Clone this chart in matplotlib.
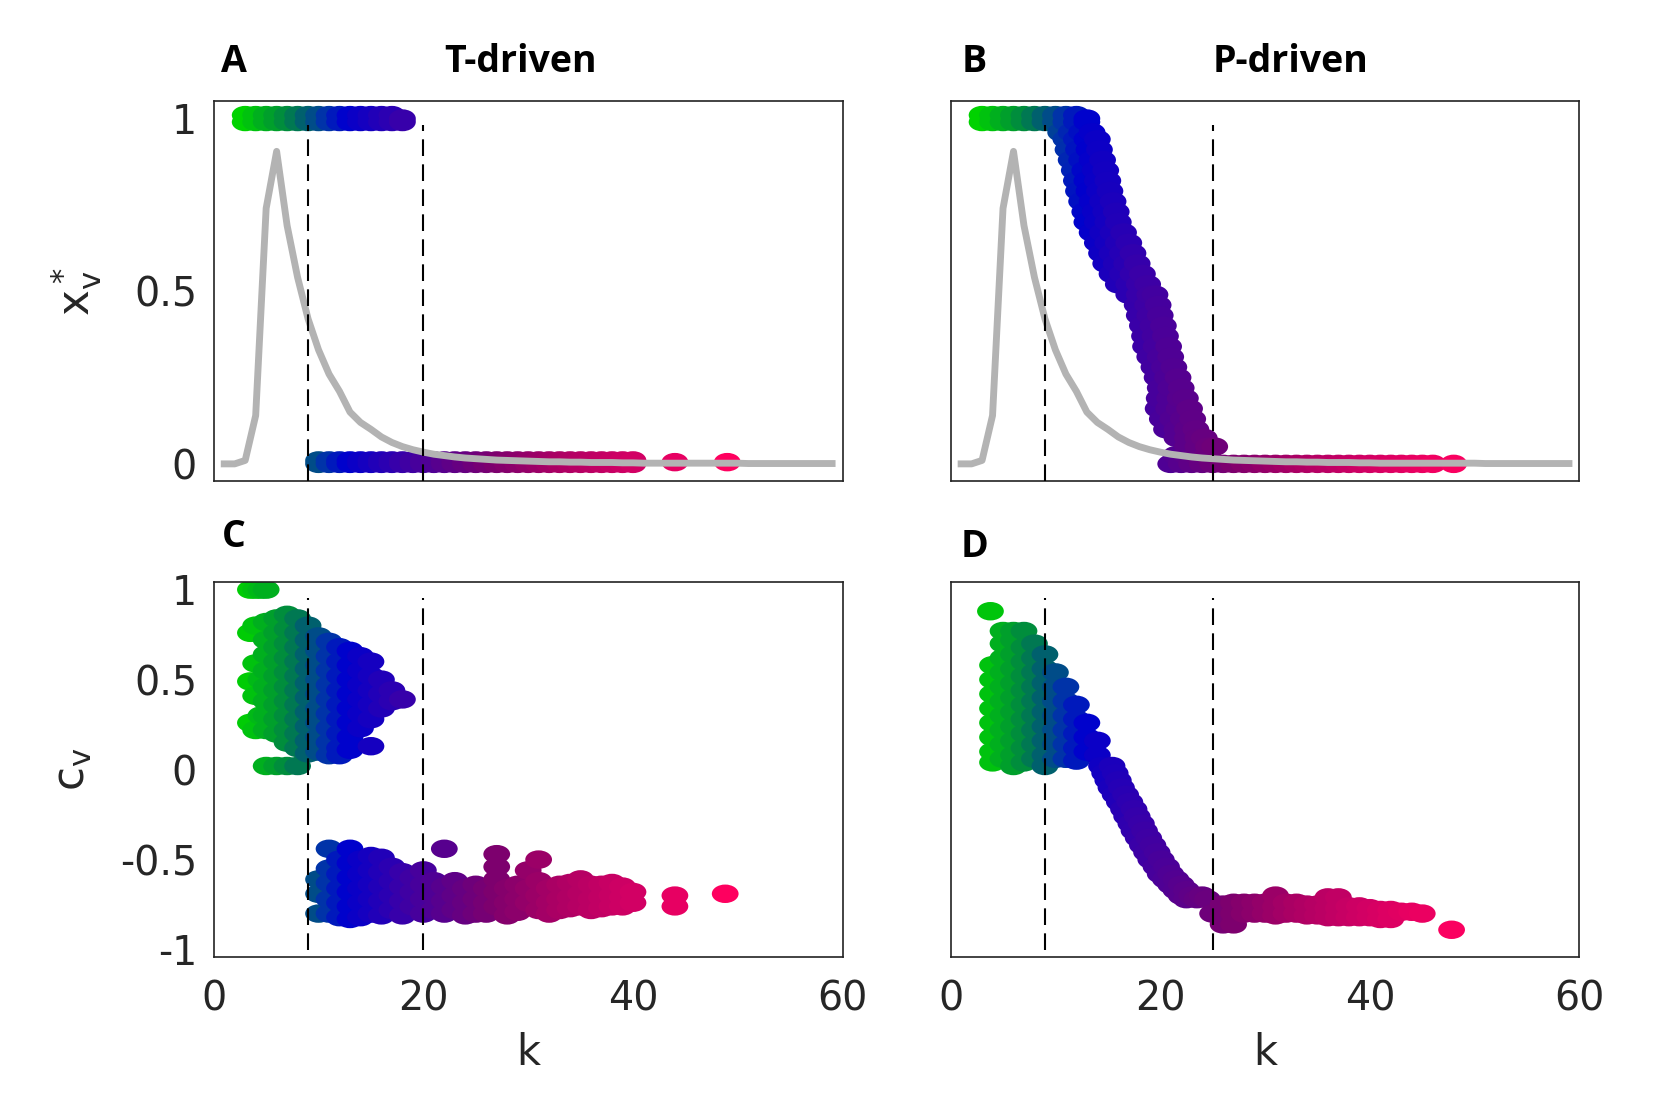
import matplotlib.pyplot as plt
from matplotlib.colors import LinearSegmentedColormap, Normalize
from matplotlib.path import Path
from matplotlib.transforms import Affine2D

# grey curve: scaled degree distribution, k = 1..59
deg_k = list(range(1, 60))
deg_p = [0.0, 0.0, 0.01, 0.14, 0.74, 0.905, 0.69, 0.54, 0.42, 0.33,
         0.26, 0.21, 0.15, 0.12, 0.10, 0.078, 0.062, 0.05, 0.041, 0.034,
         0.028, 0.024, 0.02, 0.017, 0.015, 0.013, 0.011, 0.01, 0.009, 0.008,
         0.007, 0.006, 0.006, 0.005, 0.005, 0.004, 0.004, 0.004, 0.003, 0.003,
         0.002, 0.002, 0.002, 0.002, 0.002, 0.002, 0.002, 0.002, 0.002, 0.002,
         0.001, 0.001, 0.001, 0.001, 0.001, 0.001, 0.001, 0.001, 0.001]

# dashed thresholds
t_lines = [9, 20]
p_lines = [9, 25]

# A: x*_v, T-driven  (k -> values)
a_cols = {
    3: [0.99, 1.01], 4: [0.99, 1.01], 5: [0.99, 1.01], 6: [0.99, 1.01],
    7: [0.99, 1.01], 8: [0.99, 1.01], 9: [0.99, 1.01], 10: [0.0, 0.01, 0.99, 1.01],
    11: [0.0, 0.01, 0.99, 1.01], 12: [0.0, 0.01, 0.99, 1.01], 13: [0.0, 0.01, 0.99, 1.01],
    14: [0.0, 0.01, 0.99, 1.01], 15: [0.0, 0.01, 0.99, 1.01], 16: [0.0, 0.01, 0.99, 1.01],
    17: [0.0, 0.01, 0.99, 1.01], 18: [0.0, 0.01, 0.99, 1.0],
    19: [0.0, 0.01], 20: [0.0, 0.01], 21: [0.0, 0.01], 22: [0.0, 0.01], 23: [0.0, 0.01],
    24: [0.0, 0.01], 25: [0.0, 0.01], 26: [0.0, 0.01], 27: [0.0, 0.01], 28: [0.0, 0.01],
    29: [0.0, 0.01], 30: [0.0, 0.01], 31: [0.0, 0.01], 32: [0.0, 0.01], 33: [0.0, 0.01],
    34: [0.0, 0.01], 35: [0.0, 0.01], 36: [0.0, 0.01], 37: [0.0, 0.01], 38: [0.0, 0.01],
    39: [0.0, 0.01], 40: [0.0, 0.01], 44: [0.005], 49: [0.005],
}

# B: x*_v, P-driven
b_cols = {
    3: [0.99, 1.01], 4: [0.99, 1.01], 5: [0.99, 1.01], 6: [0.99, 1.01], 7: [0.99, 1.01],
    8: [0.99, 1.01], 9: [0.99, 1.01], 10: [0.99, 1.01], 11: [0.99, 1.01],
    12: [0.99, 1.01], 13: [0.99, 1.0],
}
b_rows = {
    0.96: [10.5, 11.5, 12.5, 13.5],
    0.94: [11, 12, 13, 14],
    0.91: [11.2, 12.2, 13.2, 14.2],
    0.88: [11.5, 12.5, 13.5, 14.5],
    0.85: [11.8, 12.8, 13.8, 14.8],
    0.82: [12, 13, 14, 15],
    0.79: [12.2, 13.2, 14.2, 15.2],
    0.76: [12.5, 13.5, 14.5, 15.5],
    0.73: [12.8, 13.8, 14.8, 15.8],
    0.70: [13, 14, 15, 16],
    0.67: [13.5, 14.5, 15.5, 16.5],
    0.64: [14, 15, 16, 17],
    0.61: [14.4, 15.4, 16.4, 17.4],
    0.58: [14.8, 15.8, 16.8, 17.8],
    0.55: [15.4, 16.4, 17.4, 18.3],
    0.52: [16, 17, 18, 18.8],
    0.49: [17, 18, 19, 19.5],
    0.46: [17.8, 18.8, 19.8],
    0.43: [18, 19, 20],
    0.40: [18.3, 19.3, 20.3],
    0.37: [18.5, 19.5, 20.5],
    0.34: [18.6, 19.6, 20.8],
    0.31: [19, 20, 21],
    0.28: [19.4, 20.4, 21.3],
    0.25: [19.7, 20.7, 21.7],
    0.22: [20, 21, 22],
    0.19: [19.9, 20.9, 21.9, 22.4],
    0.16: [19.8, 20.8, 21.8, 22.8],
    0.13: [20.2, 21.2, 22.2, 23.1],
    0.10: [20.6, 21.6, 22.6, 23.4],
    0.075: [21.6, 22.6, 23.6, 24.2],
    0.05: [22.6, 23.6, 24.6, 25.2],
    0.025: [21.5, 22.5, 23.5, 24.5],
    0.0: [21, 22, 23, 24, 25, 26, 27, 28, 29, 30, 31, 32, 33, 34, 35, 36,
          37, 38, 39, 40, 41, 42, 43, 44, 45, 46, 48],
}

# C: c_v, T-driven
c_cols = {
    3.5: [1.0, 0.76, 0.49, 0.26],
    4: [1.0, 0.8, 0.59, 0.41, 0.22],
    4.5: [1.0, 0.5, 0.3],
    5: [1.0, 0.82, 0.72, 0.64, 0.55, 0.46, 0.38, 0.3, 0.22, 0.02],
    6: [0.84, 0.76, 0.68, 0.6, 0.52, 0.44, 0.36, 0.28, 0.2, 0.02],
    7: [0.86, 0.78, 0.7, 0.62, 0.54, 0.46, 0.38, 0.3, 0.22, 0.15, 0.02],
    8: [0.84, 0.76, 0.68, 0.6, 0.52, 0.44, 0.36, 0.28, 0.2, 0.12, 0.02],
    9: [0.8, 0.72, 0.64, 0.56, 0.48, 0.4, 0.32, 0.24, 0.16, 0.09],
    10: [0.74, 0.66, 0.58, 0.5, 0.42, 0.34, 0.26, 0.18, 0.1,
         -0.61, -0.69, -0.8],
    11: [0.71, 0.63, 0.55, 0.47, 0.39, 0.31, 0.23, 0.15, 0.08,
         -0.44, -0.55, -0.63, -0.72, -0.8],
    12: [0.68, 0.6, 0.52, 0.44, 0.36, 0.28, 0.2, 0.12, 0.08,
         -0.5, -0.58, -0.66, -0.74, -0.82],
    13: [0.66, 0.58, 0.5, 0.42, 0.34, 0.26, 0.18, 0.11,
         -0.44, -0.52, -0.6, -0.68, -0.76, -0.83],
    14: [0.63, 0.55, 0.47, 0.39, 0.31, 0.23,
         -0.5, -0.58, -0.66, -0.74, -0.82],
    15: [0.6, 0.52, 0.44, 0.36, 0.28, 0.13,
         -0.48, -0.56, -0.64, -0.72, -0.8],
    16: [0.5, 0.42, 0.34, -0.49, -0.57, -0.65, -0.73, -0.81],
    17: [0.44, 0.38, -0.54, -0.62, -0.7, -0.78],
    18: [0.39, -0.57, -0.65, -0.73, -0.81],
    19: [-0.6, -0.68, -0.76],
    20: [-0.56, -0.64, -0.72, -0.8],
    21: [-0.62, -0.7, -0.78],
    22: [-0.44, -0.65, -0.73, -0.8],
    23: [-0.62, -0.7, -0.78],
    24: [-0.66, -0.74, -0.81],
    25: [-0.64, -0.72, -0.8],
    26: [-0.66, -0.74, -0.8],
    27: [-0.47, -0.54, -0.61, -0.68, -0.76],
    28: [-0.66, -0.74, -0.81],
    29: [-0.64, -0.72, -0.79],
    30: [-0.56, -0.66, -0.74],
    31: [-0.5, -0.62, -0.7, -0.78],
    32: [-0.66, -0.74, -0.8],
    33: [-0.64, -0.72, -0.78],
    34: [-0.63, -0.71, -0.77],
    35: [-0.61, -0.69, -0.76],
    36: [-0.64, -0.72, -0.78],
    37: [-0.64, -0.71, -0.77],
    38: [-0.63, -0.7, -0.76],
    39: [-0.65, -0.71, -0.76],
    40: [-0.68, -0.74],
    44: [-0.7, -0.76],
    48.8: [-0.69],
}

# D: c_v, P-driven
d_cols = {
    3.8: [0.88],
    4: [0.58, 0.5, 0.42, 0.34, 0.26, 0.18, 0.1, 0.04],
    5: [0.77, 0.7, 0.62, 0.54, 0.46, 0.38, 0.3, 0.22, 0.14, 0.06],
    6: [0.77, 0.72, 0.64, 0.56, 0.48, 0.4, 0.32, 0.24, 0.16, 0.08, 0.02],
    7: [0.77, 0.68, 0.6, 0.52, 0.44, 0.36, 0.28, 0.2, 0.12, 0.04],
    8: [0.7, 0.62, 0.54, 0.46, 0.38, 0.3, 0.22, 0.14, 0.06],
    9: [0.64, 0.56, 0.48, 0.4, 0.32, 0.24, 0.16, 0.08, 0.02],
    10: [0.54, 0.46, 0.38, 0.3, 0.22, 0.14, 0.06],
    11: [0.46, 0.38, 0.3, 0.22, 0.14, 0.06],
    12: [0.36, 0.28, 0.2, 0.12, 0.05],
    13: [0.26, 0.18, 0.1],
    14: [0.16, 0.08],
    25: [-0.8], 26: [-0.75, -0.81, -0.86], 27: [-0.74, -0.8, -0.86],
    28: [-0.74, -0.8], 29: [-0.74, -0.8], 30: [-0.74, -0.8],
    31: [-0.7, -0.76, -0.81], 32: [-0.74, -0.8], 33: [-0.74, -0.8],
    34: [-0.75, -0.81], 35: [-0.75, -0.81], 36: [-0.71, -0.77, -0.82],
    37: [-0.71, -0.77, -0.82], 38: [-0.76, -0.82], 39: [-0.76, -0.82],
    40: [-0.77, -0.82], 41: [-0.78, -0.83], 42: [-0.78, -0.83],
    43: [-0.79], 44: [-0.79], 45: [-0.8], 47.8: [-0.89],
}
d_rows = {
    0.02: [14.4, 15.4],
    -0.02: [14.7, 15.7],
    -0.06: [15.0, 16.0],
    -0.10: [15.3, 16.3],
    -0.14: [15.7, 16.7],
    -0.18: [16.1, 17.1],
    -0.22: [16.5, 17.5],
    -0.26: [16.8, 17.8],
    -0.30: [17.2, 18.2],
    -0.34: [17.5, 18.5],
    -0.38: [17.9, 18.9],
    -0.42: [18.3, 19.3],
    -0.46: [18.7, 19.7],
    -0.50: [19.1, 20.1],
    -0.54: [19.6, 20.6],
    -0.58: [20.0, 21.0],
    -0.61: [20.5, 21.5],
    -0.64: [21.0, 22.0],
    -0.67: [21.5, 22.5],
    -0.70: [22.0, 23.0, 24.0],
    -0.72: [22.5, 23.5, 24.5],
}

# colour of a node goes with its degree k
k_stops = [3, 7, 9, 11, 13, 18, 23, 27, 33, 40, 49]
rgb_stops = [(0, 210, 0), (0, 140, 60), (0, 95, 110), (0, 50, 170), (0, 0, 205),
             (55, 0, 170), (95, 0, 135), (125, 0, 110), (170, 0, 100),
             (210, 0, 100), (255, 0, 95)]
cmap = LinearSegmentedColormap.from_list(
    "kmap", [((k - 3) / 46, tuple(c / 255 for c in rgb)) for k, rgb in zip(k_stops, rgb_stops)])
norm = Normalize(3, 49)

# points look stretched sideways in the original
ellipse = Path.unit_circle().transformed(Affine2D().scale(1.45, 1.0))


def expand(cols, rows=None):
    pts = []
    for k, vals in cols.items():
        pts += [(k, v) for v in vals]
    for v, ks in (rows or {}).items():
        pts += [(k, v) for k in ks]
    pts.sort()
    return [p[0] for p in pts], [p[1] for p in pts]


fig = plt.figure(figsize=(1657 / 150, 1101 / 150), dpi=150)
tick_col = "#262626"

boxes = {
    "A": [0.129, 0.563, 0.3795, 0.345],
    "B": [0.5737, 0.563, 0.3795, 0.345],
    "C": [0.129, 0.131, 0.3795, 0.340],
    "D": [0.5737, 0.131, 0.3795, 0.340],
}
panels = {
    "A": (a_cols, None, t_lines),
    "B": (b_cols, b_rows, p_lines),
    "C": (c_cols, None, t_lines),
    "D": (d_cols, d_rows, p_lines),
}

for name, (cols, rows, lines) in panels.items():
    ax = fig.add_axes(boxes[name])
    ks, vs = expand(cols, rows)
    ax.scatter(ks, vs, c=ks, cmap=cmap, norm=norm, s=165, marker=ellipse,
               edgecolors="none", zorder=2)
    top = name in ("A", "B")
    if top:
        ax.plot(deg_k, deg_p, color="#b3b3b3", lw=3.3, zorder=3)
        ax.set_ylim(-0.05, 1.05)
        lo, hi = -0.05, 0.98
    else:
        ax.set_ylim(-1.04, 1.04)
        lo, hi = -1.0, 0.955
    for k in lines:
        ax.plot([k, k], [lo, hi], color="black", lw=1.0, dashes=(8, 4), zorder=4)
    ax.set_xlim(0, 60)
    ax.set_xticks([0, 20, 40, 60])
    if top:
        ax.set_yticks([0, 0.5, 1])
        ax.set_yticklabels(["0", "0.5", "1"])
    else:
        ax.set_yticks([-1, -0.5, 0, 0.5, 1])
        ax.set_yticklabels(["-1", "-0.5", "0", "0.5", "1"])
    ax.tick_params(length=0, labelsize=19, colors=tick_col)
    ax.tick_params(axis="y", pad=8)
    ax.tick_params(axis="x", pad=11)
    ax.tick_params(labelbottom=not top, labelleft=name in ("A", "C"))
    for sp in ax.spines.values():
        sp.set_linewidth(0.8)
        sp.set_color("#222222")
    if not top:
        ax.set_xlabel("k", fontsize=20, color=tick_col)
        ax.xaxis.set_label_coords(0.5, -0.2)
    if name == "A":
        ax.set_ylabel(r"$\mathregular{x^*_v}$", fontsize=21, color=tick_col)
        ax.yaxis.set_label_coords(-0.175, 0.5)
    if name == "C":
        ax.set_ylabel(r"$\mathregular{c_v}$", fontsize=21, color=tick_col)
        ax.yaxis.set_label_coords(-0.19, 0.5)

bold = dict(fontsize=18, fontweight="bold", family=["Open Sans", "DejaVu Sans"],
            ha="center", va="baseline")
fig.text(0.141, 0.935, "A", **bold)
fig.text(0.314, 0.935, "T-driven", **bold)
fig.text(0.588, 0.935, "B", **bold)
fig.text(0.779, 0.935, "P-driven", **bold)
fig.text(0.141, 0.503, "C", **bold)
fig.text(0.588, 0.494, "D", **bold)

fig.savefig("out.png", dpi=150)
